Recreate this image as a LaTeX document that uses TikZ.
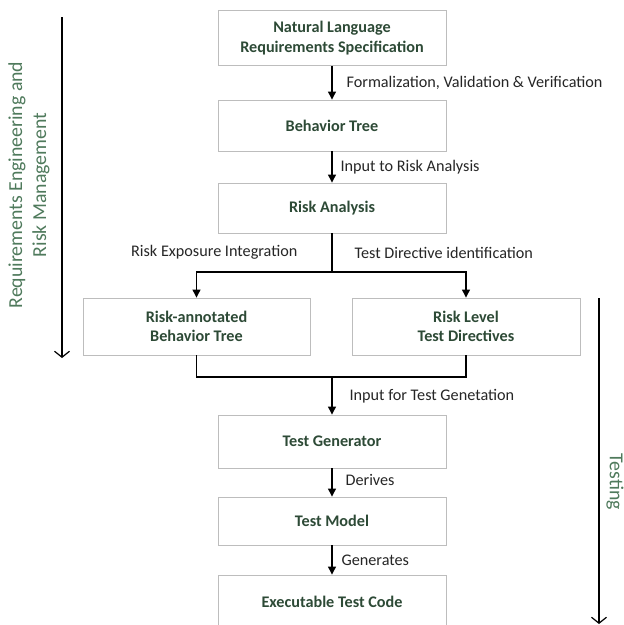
\documentclass[tikz,border=0pt]{standalone}
\usepackage{fontspec}
\setmainfont{Carlito}
\usetikzlibrary{arrows.meta}
\definecolor{boxtext}{HTML}{2D4A36}
\definecolor{sidetext}{HTML}{4F7A5C}
\definecolor{boxline}{HTML}{BDBDBD}
\tikzset{
  procbox/.style={draw=boxline, line width=0.9pt, minimum width=228pt, text=boxtext,
    font=\fontsize{16.2}{19.5}\selectfont\bfseries, align=center, inner sep=0pt},
  flowarr/.style={-{Triangle[length=8pt,width=8pt]}, line width=1.2pt},
  flowline/.style={line width=1.2pt},
  edgelabel/.style={font=\fontsize{16.2}{19}\selectfont, text=black!85, inner sep=0pt},
  phasearr/.style={-{Straight Barb[length=6pt,width=15pt,line width=1.2pt]}, line width=1.6pt},
  phaselabel/.style={font=\fontsize{19.8}{24}\selectfont, text=sidetext, align=center, inner sep=0pt}
}
\begin{document}
\begin{tikzpicture}[x=1pt, y=-1pt]
\useasboundingbox[fill=white] (0,0) rectangle (624,625);
% main flow
\node[procbox, minimum height=55pt] (nlrs) at (332,38) {Natural Language\\Requirements Specification};
\node[procbox, minimum height=51pt] (bt) at (332,125.5) {Behavior Tree};
\node[procbox, minimum height=50pt] (ra) at (332,208) {Risk Analysis};
\node[procbox, minimum width=227pt, minimum height=57pt] (rabt) at (196.5,326.5) {Risk-annotated\\Behavior Tree};
\node[procbox, minimum height=57pt] (rltd) at (466,326.5) {Risk Level\\Test Directives};
\node[procbox, minimum height=53pt] (tg) at (332,441.5) {Test Generator};
\node[procbox, minimum height=48pt] (tm) at (332,521) {Test Model};
\node[procbox, minimum height=53pt] (etc) at (332,601.5) {Executable Test Code};
\coordinate (split) at (332,272);
\coordinate (join) at (332,377);
% connectors
\draw[flowarr] (nlrs) -- node[edgelabel, right, xshift=14pt] {Formalization, Validation \& Verification} (bt);
\draw[flowarr] (bt) -- node[edgelabel, right, xshift=8pt] {Input to Risk Analysis} (ra);
\draw[flowline] (ra) -- node[edgelabel, left, xshift=-34pt] {Risk Exposure Integration}
  node[edgelabel, right, xshift=22pt] {Test Directive identification} (split);
\draw[flowarr] (split) -| (rabt.north);
\draw[flowarr] (split) -| (rltd.north);
\draw[flowline] (rabt.south) |- (join) -| (rltd.south);
\draw[flowarr] (join) -- node[edgelabel, right, xshift=17pt] {Input for Test Genetation} (tg);
\draw[flowarr] (tg) -- node[edgelabel, right, xshift=13pt, yshift=3pt] {Derives} (tm);
\draw[flowarr] (tm) -- node[edgelabel, right, xshift=9pt] {Generates} (etc);
% phases
\coordinate (reTop) at (62,17);
\coordinate (reEnd) at (62,358);
\coordinate (teTop) at (599,298);
\coordinate (teEnd) at (599,624);
\draw[phasearr] (reTop) -- (reEnd);
\draw[phasearr] (teTop) -- (teEnd);
\node[phaselabel, rotate=90] (relabel) at (29,185) {Requirements Engineering and\\Risk Management};
\node[phaselabel, rotate=-90] (telabel) at (615,482) {Testing};
\end{tikzpicture}
\end{document}
